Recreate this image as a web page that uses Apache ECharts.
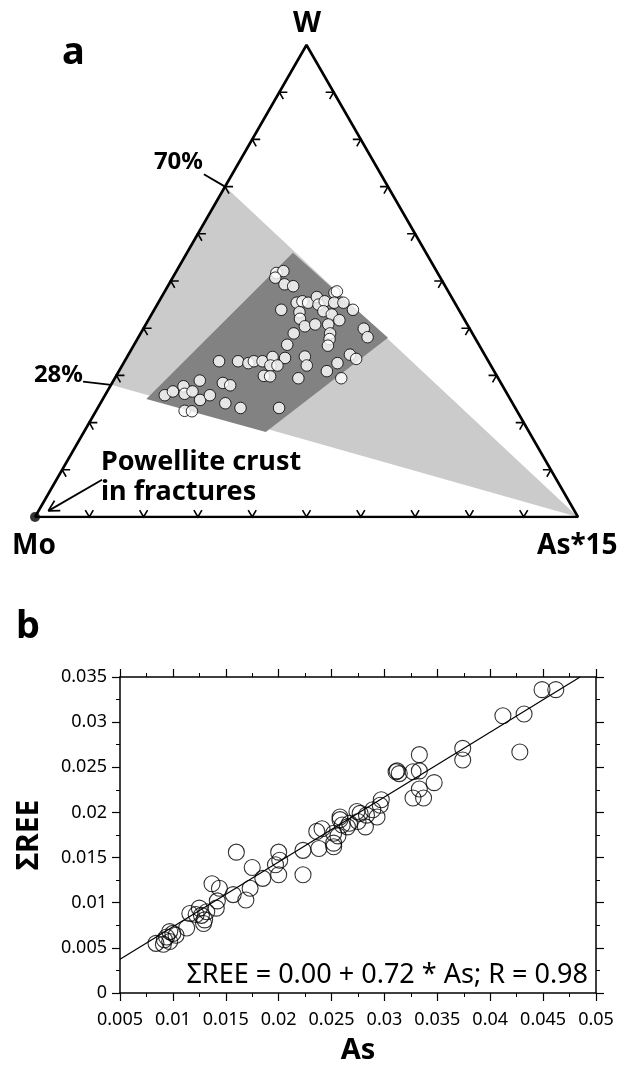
<!DOCTYPE html>
<html>
<head>
<meta charset="utf-8">
<title>W-Mo-As ternary and REE vs As</title>
<script src="https://cdn.jsdelivr.net/npm/echarts@6.0.0/dist/echarts.min.js"></script>
<style>
  html, body { margin: 0; padding: 0; background: #fff; }
  #chart { width: 619px; height: 1068px; }
</style>
</head>
<body>
<div id="chart"></div>
<script>
// ---- panel a: ternary W - Mo - As*15, in % (Mo = 100 - W - As) ----
const ternW = [51.7, 52.1, 50.7, 49.3, 48.9, 43.9, 45.4, 45.7, 45.4, 46.6, 45.0, 45.7, 47.5, 47.8, 45.4, 45.4, 43.9,
  43.4, 42.0, 43.6, 42.9, 41.7, 40.4, 40.8, 40.8, 38.9, 38.9, 37.7, 36.3, 36.5, 39.9, 38.1,
  33.0, 33.0, 32.6, 33.0, 33.0, 33.9, 33.7, 32.1, 32.1, 29.9, 29.8, 34.0, 32.1, 29.4, 30.9, 32.6, 34.4, 33.5, 29.4,
  25.8, 26.6, 27.7, 26.1, 26.6, 28.9, 24.8, 25.8, 28.4, 27.9, 22.5, 22.4, 24.1, 23.1, 23.1];
const ternAs = [18.6, 19.7, 18.9, 21.3, 23.1, 23.4, 25.5, 26.4, 27.6, 28.6, 29.7, 30.5, 31.4, 31.7, 32.4, 34.1, 36.6,
  27.0, 27.8, 31.3, 33.2, 35.2, 29.5, 31.2, 33.6, 28.2, 34.9, 35.4, 35.8, 28.2, 40.6, 42.2,
  17.4, 20.9, 23.0, 23.8, 25.4, 26.8, 29.2, 27.3, 28.6, 27.2, 28.4, 32.7, 34.0, 33.8, 38.3, 39.4, 40.8, 42.4, 41.7,
  11.0, 12.1, 13.5, 14.5, 15.7, 15.9, 18.0, 19.3, 20.4, 22.0, 16.3, 17.7, 23.0, 26.3, 33.4];
// shaded fields, vertices as [W, As]
const lightField = [[70, 0], [0, 100], [28, 0]];
const darkField = [[56, 19.5], [38, 46], [18, 33.5], [25, 8]];
const edgeTicks = [10, 20, 30, 40, 50, 60, 70, 80, 90];
const crustPoint = [0, 0];               // powellite crust at Mo apex
const arrowLine = [[7.9, 8.4], [1.3, 1.8]];
const leader70 = [[72.6, -5.2], [70, 0]];
const leader28 = [[28.7, -5.5], [28, 0]];

// ---- panel b: sum REE vs As ----
const asVals = [0.0084, 0.0091, 0.0094, 0.0100, 0.0097, 0.0097, 0.0092, 0.0113, 0.0116, 0.0125, 0.0127, 0.0130,
  0.0132, 0.0129, 0.0141, 0.0142, 0.0137, 0.0144, 0.0157, 0.0169, 0.0173, 0.0160, 0.0175, 0.0185, 0.0197, 0.0200,
  0.0201, 0.0200, 0.0223, 0.0223, 0.0236, 0.0238, 0.0241, 0.0252, 0.0252, 0.0258, 0.0260, 0.0267, 0.0274, 0.0282,
  0.0283, 0.0289, 0.0293, 0.0297, 0.0296, 0.0277, 0.0312, 0.0314, 0.0327, 0.0333, 0.0333, 0.0333, 0.0327, 0.0337,
  0.0347, 0.0374, 0.0374, 0.0412, 0.0432, 0.0428, 0.0449, 0.0462, 0.0258, 0.0252, 0.0256, 0.0265, 0.0275, 0.0122,
  0.0103, 0.0311];
const reeVals = [0.0055, 0.0054, 0.0062, 0.0066, 0.0068, 0.0057, 0.0059, 0.0072, 0.0088, 0.0094, 0.0086, 0.0081,
  0.0090, 0.0077, 0.0094, 0.0102, 0.0121, 0.0116, 0.0109, 0.0103, 0.0116, 0.0156, 0.0139, 0.0127, 0.0142, 0.0156,
  0.0147, 0.0131, 0.0131, 0.0158, 0.0179, 0.0160, 0.0182, 0.0166, 0.0177, 0.0192, 0.0186, 0.0188, 0.0201, 0.0184,
  0.0197, 0.0203, 0.0195, 0.0214, 0.0208, 0.0199, 0.0246, 0.0243, 0.0245, 0.0264, 0.0246, 0.0226, 0.0216, 0.0216,
  0.0233, 0.0271, 0.0258, 0.0307, 0.0309, 0.0267, 0.0336, 0.0336, 0.0195, 0.0162, 0.0174, 0.0184, 0.0190, 0.0087,
  0.0064, 0.0245];
const fitAs = [0.005, 0.0485];
const fitRee = [0.00375, 0.035];
const xTicks = { min: 0.005, max: 0.05, step: 0.005 };
const yTicks = { min: 0, max: 0.035, step: 0.005 };

const H = Math.sqrt(3) / 2;
// [W, As] in % -> x/y in the triangle frame (Mo at 0,0; As at 1,0; W at top)
const tern = (w, as) => [as / 100 + w / 200, (w / 100) * H];

const FONT = '"Noto Sans", "Open Sans", sans-serif';

const tickData = [];
edgeTicks.forEach((t) => {
  tickData.push([...tern(0, t), 0]);        // Mo - As edge
  tickData.push([...tern(t, 0), 1]);        // Mo - W edge
  tickData.push([...tern(t, 100 - t), 2]);  // As - W edge
});
// prong directions in pixel space, pointing into the triangle
const prongs = {
  0: [[0.5, -H], [-0.5, -H]],
  1: [[1, 0], [0.5, H]],
  2: [[-1, 0], [-0.5, H]],
};

const polygonSeries = (field, color, z) => ({
  type: 'custom',
  xAxisIndex: 0,
  yAxisIndex: 0,
  z: z,
  silent: true,
  data: field.map((p) => tern(p[0], p[1])),
  renderItem: (params, api) => {
    if (params.dataIndex !== 0) return null;
    const pts = field.map((p) => api.coord(tern(p[0], p[1])));
    return { type: 'polygon', shape: { points: pts }, style: { fill: color } };
  },
});

const segmentSeries = (segs, head) => ({
  type: 'custom',
  xAxisIndex: 0,
  yAxisIndex: 0,
  z: 6,
  silent: true,
  data: segs.map((s) => [...tern(s[0][0], s[0][1]), ...tern(s[1][0], s[1][1])]),
  renderItem: (params, api) => {
    const a = api.coord([api.value(0), api.value(1)]);
    const b = api.coord([api.value(2), api.value(3)]);
    const children = [{
      type: 'line',
      shape: { x1: a[0], y1: a[1], x2: b[0], y2: b[1] },
      style: { stroke: '#000', lineWidth: 1.8 },
    }];
    if (head) {
      const dx = b[0] - a[0], dy = b[1] - a[1];
      const len = Math.hypot(dx, dy);
      const ux = dx / len, uy = dy / len;
      const ang = 0.5, L = 12;
      [ang, -ang].forEach((r) => {
        const cx = Math.cos(r) * ux - Math.sin(r) * uy;
        const cy = Math.sin(r) * ux + Math.cos(r) * uy;
        children.push({
          type: 'line',
          shape: { x1: b[0], y1: b[1], x2: b[0] - cx * L, y2: b[1] - cy * L },
          style: { stroke: '#000', lineWidth: 1.8 },
        });
      });
    }
    return { type: 'group', children };
  },
});

const axisCommon = {
  type: 'value',
  gridIndex: 1,
  splitLine: { show: false },
  axisLine: { show: true, onZero: false, lineStyle: { color: '#000', width: 1.5 } },
  axisTick: { show: true, length: 8, lineStyle: { color: '#000', width: 1.2 } },
  minorTick: { show: true, splitNumber: 2, length: 4, lineStyle: { color: '#000', width: 1 } },
  minorSplitLine: { show: false },
};
const fmt = (v) => String(+v.toFixed(3));

const chart = echarts.init(document.getElementById('chart'), null, { renderer: 'canvas' });

const option = {
  animation: false,
  backgroundColor: '#fff',
  textStyle: { fontFamily: FONT },
  grid: [
    { left: 35, top: 45, width: 543, height: 472, show: false },
    { left: 120, top: 677, width: 476, height: 316, show: false },
  ],
  xAxis: [
    { type: 'value', gridIndex: 0, min: 0, max: 1, show: false },
    Object.assign({}, axisCommon, {
      position: 'bottom', min: xTicks.min, max: xTicks.max, interval: xTicks.step,
      axisLabel: { color: '#000', fontSize: 18, margin: 18, fontFamily: FONT, formatter: fmt, hideOverlap: false },
      name: 'As', nameLocation: 'middle', nameGap: 43,
      nameTextStyle: { color: '#000', fontSize: 29, fontWeight: 'bold', fontFamily: FONT },
    }),
    Object.assign({}, axisCommon, {
      position: 'top', min: xTicks.min, max: xTicks.max, interval: xTicks.step,
      axisLabel: { show: false },
    }),
  ],
  yAxis: [
    { type: 'value', gridIndex: 0, min: 0, max: H, show: false },
    Object.assign({}, axisCommon, {
      position: 'left', min: yTicks.min, max: yTicks.max, interval: yTicks.step,
      axisLabel: { color: '#000', fontSize: 18, margin: 13, fontFamily: FONT, formatter: fmt },
      name: 'ΣREE', nameLocation: 'middle', nameGap: 76, nameRotate: 90,
      nameTextStyle: { color: '#000', fontSize: 30, fontWeight: 'bold', fontFamily: FONT },
    }),
    Object.assign({}, axisCommon, {
      position: 'right', min: yTicks.min, max: yTicks.max, interval: yTicks.step,
      axisLabel: { show: false },
    }),
  ],
  series: [
    polygonSeries(lightField, '#cbcbcb', 1),
    polygonSeries(darkField, '#828282', 2),
    {
      type: 'line',
      xAxisIndex: 0,
      yAxisIndex: 0,
      z: 5,
      silent: true,
      symbol: 'none',
      lineStyle: { color: '#000', width: 2.6 },
      data: [tern(0, 0), tern(0, 100), tern(100, 0), tern(0, 0)],
    },
    {
      type: 'custom',
      xAxisIndex: 0,
      yAxisIndex: 0,
      z: 5,
      silent: true,
      data: tickData,
      renderItem: (params, api) => {
        const p = api.coord([api.value(0), api.value(1)]);
        const d = prongs[api.value(2)];
        const L = 8;
        return {
          type: 'polyline',
          shape: { points: [[p[0] + d[0][0] * L, p[1] + d[0][1] * L], p, [p[0] + d[1][0] * L, p[1] + d[1][1] * L]] },
          style: { stroke: '#000', lineWidth: 1.6, fill: null },
        };
      },
    },
    segmentSeries([arrowLine], true),
    segmentSeries([leader70, leader28], false),
    {
      type: 'scatter',
      xAxisIndex: 0,
      yAxisIndex: 0,
      z: 7,
      symbol: 'circle',
      symbolSize: 10,
      itemStyle: { color: '#000' },
      data: [tern(crustPoint[0], crustPoint[1])],
    },
    {
      type: 'scatter',
      xAxisIndex: 0,
      yAxisIndex: 0,
      z: 8,
      symbol: 'circle',
      symbolSize: 11.5,
      itemStyle: { color: '#fff', borderColor: '#000', borderWidth: 1 },
      data: ternW.map((w, i) => tern(w, ternAs[i])),
    },
    {
      type: 'line',
      xAxisIndex: 1,
      yAxisIndex: 1,
      z: 3,
      symbol: 'none',
      lineStyle: { color: '#000', width: 1.2 },
      data: fitAs.map((x, i) => [x, fitRee[i]]),
    },
    {
      type: 'scatter',
      xAxisIndex: 1,
      yAxisIndex: 1,
      z: 4,
      symbol: 'circle',
      symbolSize: 16,
      itemStyle: { color: 'rgba(0,0,0,0)', borderColor: '#000', borderWidth: 1.1 },
      data: asVals.map((x, i) => [x, reeVals[i]]),
    },
  ],
  graphic: [
    { type: 'text', left: 62, top: 34, style: { text: 'a', font: 'bold 38px ' + FONT, fill: '#000' } },
    { type: 'text', x: 307, y: 24, style: { text: 'W', font: 'bold 29px ' + FONT, fill: '#000', align: 'center', verticalAlign: 'middle' } },
    { type: 'text', x: 12, y: 546, style: { text: 'Mo', font: 'bold 28px ' + FONT, fill: '#000', align: 'left', verticalAlign: 'middle' } },
    { type: 'text', x: 537, y: 546, style: { text: 'As*15', font: 'bold 28px ' + FONT, fill: '#000', align: 'left', verticalAlign: 'middle' } },
    { type: 'text', x: 203, y: 162, style: { text: '70%', font: 'bold 24px ' + FONT, fill: '#000', align: 'right', verticalAlign: 'middle' } },
    { type: 'text', x: 83, y: 375, style: { text: '28%', font: 'bold 24px ' + FONT, fill: '#000', align: 'right', verticalAlign: 'middle' } },
    { type: 'text', x: 101, y: 462, style: { text: 'Powellite crust', font: 'bold 27px ' + FONT, fill: '#000', align: 'left', verticalAlign: 'middle' } },
    { type: 'text', x: 101, y: 492, style: { text: 'in fractures', font: 'bold 27px ' + FONT, fill: '#000', align: 'left', verticalAlign: 'middle' } },
    { type: 'text', left: 16, top: 608, style: { text: 'b', font: 'bold 38px ' + FONT, fill: '#000' } },
    { type: 'text', x: 588, y: 975, style: { text: 'ΣREE = 0.00 + 0.72 * As; R = 0.98', font: '27px ' + FONT, fill: '#000', align: 'right', verticalAlign: 'middle' } },
  ],
};

chart.setOption(option);
</script>
</body>
</html>
